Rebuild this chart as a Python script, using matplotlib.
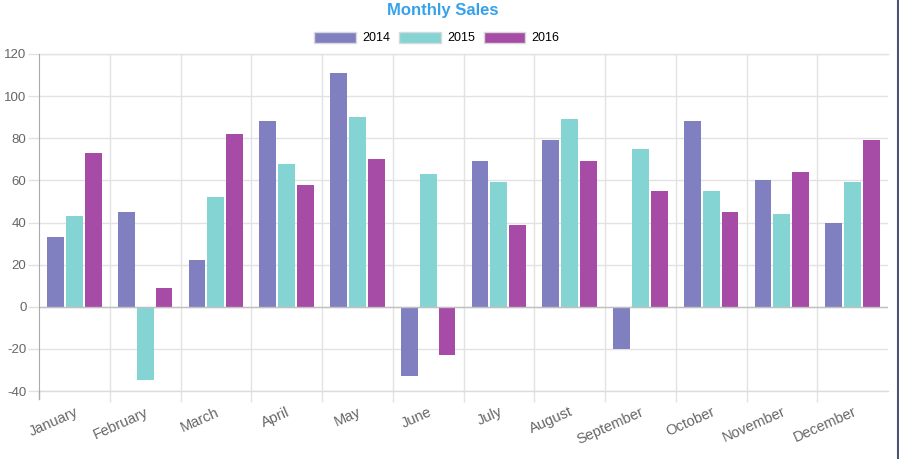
import matplotlib.pyplot as plt
import numpy as np
from matplotlib.lines import Line2D

plt.rcParams['font.family'] = ['Liberation Sans', 'DejaVu Sans']

months = ['January', 'February', 'March', 'April', 'May', 'June',
          'July', 'August', 'September', 'October', 'November', 'December']
years = ['2014', '2015', '2016']
sales_2014 = [33, 45, 22, 88, 111, -33, 69, 79, -20, 88, 60, 40]
sales_2015 = [43, -35, 52, 68, 90, 63, 59, 89, 75, 55, 44, 59]
sales_2016 = [73, 9, 82, 58, 70, -23, 39, 69, 55, 45, 64, 79]
y_ticks = [-40, -20, 0, 20, 40, 60, 80, 100, 120]

colors = ['#8080c0', '#84d4d4', '#a64ca6']

fig = plt.figure(figsize=(8.99, 4.59), dpi=100)
ax = fig.add_axes([39 / 899, 1 - 391 / 459, (888 - 39) / 899, (391 - 54) / 459])

x = np.arange(len(months))
slot = 0.8 / 3
series = [sales_2014, sales_2015, sales_2016]
for j, vals in enumerate(series):
    ax.bar(x + (j - 1) * slot, vals, width=0.24, color=colors[j],
           linewidth=0, label=years[j], zorder=3)

ax.set_xlim(-0.5, len(months) - 0.5)
ax.set_ylim(-40, 120)
ax.set_yticks(y_ticks)
ax.set_yticklabels([str(v) for v in y_ticks])

# grid on category boundaries
bounds = np.arange(0.5, len(months) - 0.5, 1)
ax.set_xticks(x)
ax.set_xticks(bounds, minor=True)
ax.set_xticklabels(months, rotation=24, ha='right', rotation_mode='anchor')
ax.tick_params(axis='x', which='major', length=0, pad=10, labelsize=10.5, labelcolor='#666666')
ax.tick_params(axis='x', which='minor', length=8, color='#e2e2e2', width=1)
ax.tick_params(axis='y', length=8, color='#e2e2e2', width=1, labelsize=9.5, labelcolor='#666666', pad=1)
ax.grid(axis='x', which='minor', color='#e2e2e2', linewidth=1, zorder=0)
ax.grid(axis='y', which='major', color='#e2e2e2', linewidth=1, zorder=0)
ax.axhline(-40, color='#dcdcdc', linewidth=1, zorder=1, clip_on=False)
ax.axhline(120, color='#e2e2e2', linewidth=1, zorder=1, clip_on=False)
ax.axhline(0, color='#c0c0c0', linewidth=1, zorder=4)

for s in ['top', 'right', 'bottom']:
    ax.spines[s].set_visible(False)
ax.spines['left'].set_color('#aaaaaa')
ax.spines['left'].set_zorder(4)

# y axis tick extends a bit below bottom like category ticks
fig.add_artist(Line2D([39 / 899, 39 / 899], [1 - 399 / 459, 1 - 391 / 459], color='#aaaaaa', linewidth=1))

fig.text(443 / 899, 1 - 10 / 459, 'Monthly Sales', ha='center', va='center',
         fontsize=12, fontweight='bold', color='#36a2eb')

leg = fig.legend(loc='center', bbox_to_anchor=(437 / 899, 1 - 38 / 459), ncol=3, frameon=False,
                 handlelength=3.3, handleheight=1.0, columnspacing=0.75, handletextpad=0.5,
                 fontsize=9)
for h in leg.legend_handles:
    h.set_edgecolor('#d8d8d8')
    h.set_linewidth(1)

# dark border at right edge
fig.add_artist(Line2D([897.5 / 899, 897.5 / 899], [0, 1], color='#4a5570', linewidth=1.5))

fig.savefig('out.png', dpi=100)
